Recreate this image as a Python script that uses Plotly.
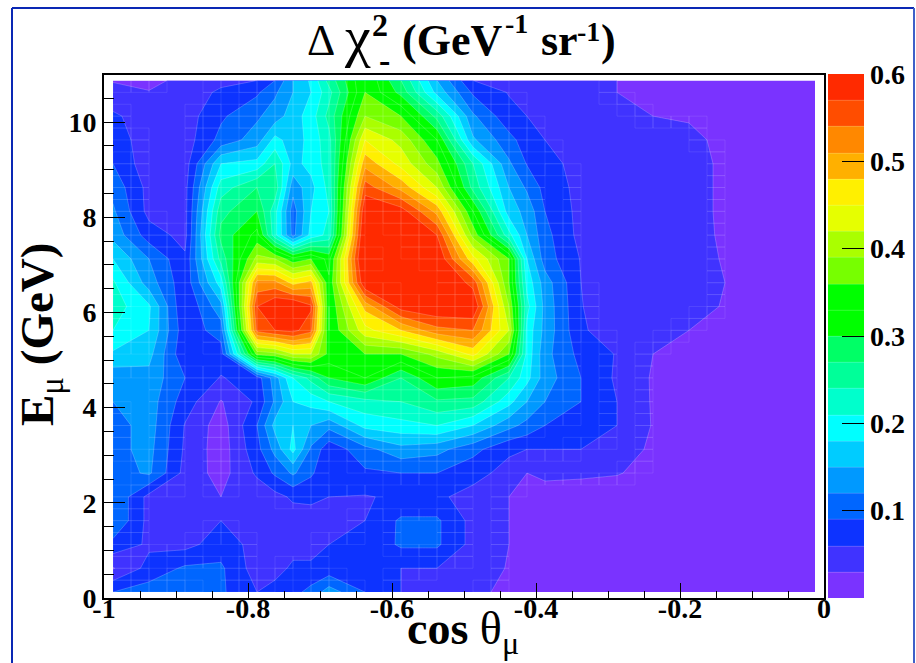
import numpy as np
import plotly.graph_objects as go

cos_theta = [-.9875,-.9375,-.8875,-.8375,-.7875,-.7625,-.7375,-.7125,-.6875,-.6375,-.5875,-.5375,
             -.4875,-.4375,-.4125,-.3875,-.3375,-.2875,-.2375,-.1875,-.1375,-.0875,-.0375,-.0125]
energy = [10.875,10.625,10.125,9.625,9.125,8.625,8.125,7.625,7.125,6.625,6.125,5.625,
          5.125,4.625,4.125,3.625,3.125,2.625,2.125,1.625,1.125,.625,.125]
chi2 = [
 [.028,.02,.04,.048,.06,.09,.15,.185,.25,.36,.27,.15,.06,.05,.045,.045,.04,.03,.02,.015,.012,.01,.01,.01],
 [.04,.032,.035,.068,.085,.115,.15,.18,.23,.36,.29,.17,.085,.058,.05,.05,.04,.03,.025,.015,.012,.01,.01,.01],
 [.065,.045,.045,.085,.115,.135,.165,.195,.25,.39,.36,.26,.125,.07,.06,.05,.04,.035,.03,.028,.02,.012,.01,.01],
 [.075,.045,.045,.10,.135,.19,.165,.19,.23,.45,.41,.33,.155,.10,.075,.06,.045,.04,.035,.035,.025,.015,.012,.01],
 [.09,.04,.045,.18,.19,.24,.17,.19,.225,.50,.44,.37,.24,.125,.088,.07,.05,.042,.04,.04,.025,.015,.012,.01],
 [.11,.05,.05,.225,.27,.26,.13,.17,.22,.555,.50,.42,.26,.15,.115,.08,.05,.05,.045,.04,.025,.015,.012,.01],
 [.125,.05,.05,.26,.30,.22,.105,.18,.21,.60,.585,.50,.33,.165,.14,.09,.05,.05,.045,.04,.025,.015,.012,.01],
 [.14,.075,.05,.28,.34,.22,.11,.19,.22,.62,.61,.57,.38,.22,.15,.10,.05,.05,.045,.04,.026,.015,.012,.01],
 [.18,.12,.065,.25,.40,.39,.34,.36,.32,.63,.62,.6,.46,.36,.18,.105,.058,.055,.05,.04,.028,.015,.012,.01],
 [.215,.135,.07,.195,.52,.52,.47,.49,.335,.6,.62,.61,.56,.36,.2,.135,.06,.04,.045,.04,.03,.015,.012,.01],
 [.225,.185,.06,.14,.57,.60,.61,.575,.33,.49,.585,.60,.6,.39,.22,.14,.062,.03,.04,.04,.028,.015,.012,.01],
 [.21,.18,.07,.105,.55,.57,.58,.55,.33,.44,.48,.53,.54,.42,.2,.14,.065,.04,.035,.03,.02,.015,.012,.01],
 [.175,.16,.065,.075,.37,.38,.42,.42,.35,.36,.36,.40,.46,.36,.2,.13,.08,.058,.03,.015,.012,.012,.01,.01],
 [.13,.14,.09,.058,.075,.135,.21,.25,.30,.33,.27,.33,.32,.24,.19,.135,.09,.055,.027,.015,.012,.01,.01,.01],
 [.12,.135,.075,.028,.065,.125,.18,.19,.21,.23,.24,.265,.26,.19,.15,.12,.09,.06,.027,.015,.012,.01,.01,.01],
 [.105,.135,.058,.015,.09,.16,.18,.15,.13,.19,.20,.21,.18,.13,.11,.09,.085,.06,.028,.015,.012,.01,.01,.01],
 [.11,.13,.055,.014,.08,.13,.19,.115,.07,.11,.14,.13,.10,.065,.06,.06,.06,.045,.025,.015,.012,.01,.01,.01],
 [.105,.125,.05,.018,.065,.095,.125,.095,.065,.085,.09,.09,.07,.05,.03,.035,.035,.032,.02,.012,.012,.01,.01,.01],
 [.12,.05,.045,.03,.04,.05,.065,.065,.06,.058,.065,.065,.05,.03,.022,.02,.015,.012,.012,.012,.012,.01,.01,.01],
 [.12,.05,.045,.06,.05,.05,.045,.05,.045,.06,.095,.095,.05,.03,.022,.02,.015,.012,.012,.012,.012,.01,.01,.01],
 [.08,.055,.05,.075,.05,.045,.05,.05,.06,.065,.095,.095,.05,.03,.022,.02,.015,.012,.012,.012,.012,.01,.01,.01],
 [.028,.07,.095,.095,.045,.05,.065,.065,.07,.065,.06,.06,.045,.028,.022,.02,.015,.012,.012,.012,.012,.01,.01,.01],
 [.09,.105,.12,.095,.06,.07,.08,.1,.135,.09,.06,.05,.04,.02,.018,.015,.015,.012,.012,.012,.012,.01,.01,.01],
]
band_colors = ["#7a33ff","#4033ff","#0d33ff","#0066ff","#0099ff","#00ccff","#00ffff","#00ffcc",
               "#00ff99","#00ff66","#00ff00","#00ff00","#77ff00","#aaff00","#e6ff00","#fff000",
               "#ffb000","#ff8800","#ff4d00","#ff2a00"]
x_ticks = [-1,-.8,-.6,-.4,-.2,0]
x_labels = ["-1","-0.8","-0.6","-0.4","-0.2","0"]
y_ticks = [0,2,4,6,8,10]
y_labels = ["0","2","4","6","8","10"]
bar_ticks = [.1,.2,.3,.4,.5,.6]
bar_labels = ["0.1","0.2","0.3","0.4","0.5","0.6"]

FONT = "Liberation Serif"
n = len(band_colors)
scale = []
for i, c in enumerate(band_colors):
    scale += [[i/n, c], [(i+1)/n, c]]

fig = go.Figure()
fig.add_trace(go.Contour(
    x=cos_theta, y=energy, z=chi2, zmin=0, zmax=.6, zauto=False, colorscale=scale,
    autocontour=False, contours=dict(start=.03, end=.57, size=.03, coloring="fill"),
    line=dict(color="rgba(255,255,255,.35)", width=.6, smoothing=0), hoverinfo="skip",
    colorbar=dict(x=1.005, xanchor="left", y=0, yanchor="bottom", len=1.002, lenmode="fraction",
                  thickness=36, thicknessmode="pixels", xpad=0, ypad=0, outlinewidth=0,
                  tickmode="array", tickvals=bar_ticks, ticktext=bar_labels, ticks="inside",
                  ticklen=22, tickwidth=1, tickcolor="#000", ticklabelposition="outside",
                  tickfont=dict(family=FONT, size=28, color="#000", weight="bold")),
))

# seams of the cell-wise fill polygons, only in cells crossed by a contour
Z = np.array(chi2)[::-1]
ex, ey = np.array(cos_theta), np.array(energy)[::-1]
fx = np.arange(-.9875, -.0124, .025)
fy = np.arange(.125, 10.876, .25)
F = np.array([np.interp(fx, ex, row) for row in Z])
F = np.array([np.interp(fy, ey, F[:, j]) for j in range(F.shape[1])]).T
B = np.floor(F/.03)
sx, sy = [], []
for j in range(len(fy)-1):
    for i in range(len(fx)-1):
        if B[j:j+2, i:i+2].max() != B[j:j+2, i:i+2].min():
            sx += [fx[i], fx[i+1], fx[i+1], fx[i], fx[i], None]
            sy += [fy[j], fy[j], fy[j+1], fy[j+1], fy[j], None]
fig.add_trace(go.Scatter(x=sx, y=sy, mode="lines", showlegend=False, hoverinfo="skip",
                         line=dict(color="rgba(255,255,255,.12)", width=.8)))

axis_common = dict(showgrid=False, zeroline=False, showline=True, mirror=True, linecolor="#000",
                   linewidth=2, ticks="inside", tickcolor="#000", tickwidth=1.2, tickmode="array",
                   tickfont=dict(family=FONT, size=28, color="#000", weight="bold"))
fig.update_xaxes(range=[-1, 0], tickvals=x_ticks, ticktext=x_labels, ticklen=15, ticklabelstandoff=-16,
                 minor=dict(dtick=.05, ticklen=7, ticks="inside", tickcolor="#000", tickwidth=1),
                 **axis_common)
fig.update_yaxes(range=[0, 10.99], tickvals=y_ticks, ticktext=y_labels, ticklen=21,
                 minor=dict(dtick=.5, ticklen=10, ticks="inside", tickcolor="#000", tickwidth=1),
                 **axis_common)

W, H, L, R, T, B_ = 916, 663, 104, 92, 75, 65
px = lambda v: (v-L)/(W-L-R)
py = lambda v: (H-B_-v)/(H-T-B_)
def note(text, x, y, size, xanchor="left", yanchor="middle", angle=0):
    fig.add_annotation(text=text, x=px(x), y=py(y), xref="paper", yref="paper", showarrow=False,
                       xanchor=xanchor, yanchor=yanchor, textangle=angle,
                       font=dict(family=FONT, size=size, color="#000"))
note("Δ", 305, 41, 44)
note("χ", 342, 36, 58)
note("<b>2</b>", 370, 25, 32)
note("<b>-</b>", 377, 60, 34)
note("<b>(GeV</b>", 400, 41, 44)
note("<b>-1</b>", 503, 24, 28)
note("<b>sr</b>", 539, 41, 44)
note("<b>-1</b>", 575, 31, 28)
note("<b>)</b>", 599, 41, 44)
note("<b>cos</b> θ<sub>μ</sub>", 405, 632, 46)
note("<b>E</b><sub>μ</sub> <b>(GeV)</b>", 40, 335, 47, "center", "middle", -90)

frame = [(12, 8, 12, 700, "#0a28b4"), (12, 8, 914, 8, "#0a28b4"), (914, 8, 914, 700, "#3f5fc8"),
         (863, 74, 863, 598, "#555555")]
for x0, y0, x1, y1, c in frame:
    fig.add_shape(type="line", xref="paper", yref="paper", x0=px(x0), x1=px(x1), y0=py(y0), y1=py(y1),
                  line=dict(color=c, width=2 if c != "#555555" else 1))

fig.update_layout(width=W, height=H, margin=dict(l=L, r=R, t=T, b=B_, pad=0, autoexpand=False),
                  paper_bgcolor="#fff", plot_bgcolor="#fff", showlegend=False)
fig.write_html("out.html", config={"displayModeBar": False},
               post_script="document.body.style.margin='0';document.body.style.overflow='hidden';")
